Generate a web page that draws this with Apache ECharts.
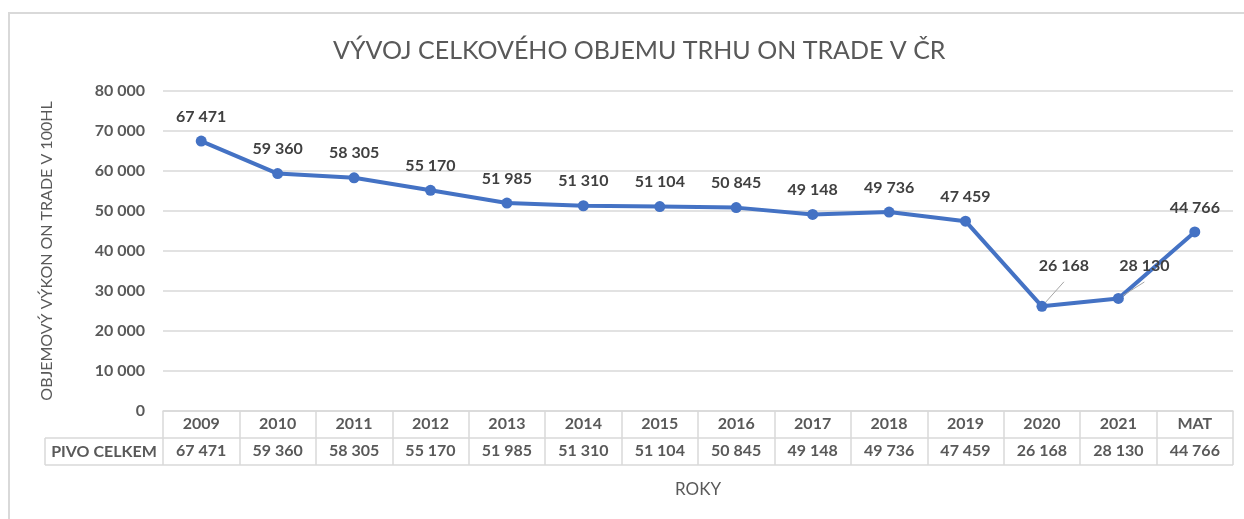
<!DOCTYPE html>
<html>
<head>
<meta charset="utf-8">
<script src="https://cdn.jsdelivr.net/npm/echarts@6/dist/echarts.min.js"></script>
<style>
  html, body { margin: 0; padding: 0; background: #fff; }
  #chart { width: 1244px; height: 519px; }
</style>
</head>
<body>
<div id="chart"></div>
<script>
var years = ['2009','2010','2011','2012','2013','2014','2015','2016','2017','2018','2019','2020','2021','MAT'];
var pivoCelkem = [67471, 59360, 58305, 55170, 51985, 51310, 51104, 50845, 49148, 49736, 47459, 26168, 28130, 44766];
var rowName = 'PIVO CELKEM';
var yTicks = { min: 0, max: 80000, interval: 10000 };

var FONT = 'Lato';
var GRAY = '#595959';
var LINE = '#d9d9d9';

function fmt(v) {
    return String(v).replace(/\B(?=(\d{3})+(?!\d))/g, ' ');
}

// grid edges in pixels
var gl = 163, gr = 1233, gt = 91, gb = 411;
var rowH = 27;

// labels pulled off the line, with a leader line (as in the source)
var labelShift = { '2020': [22, -16], '2021': [26, -8] };

var chart = echarts.init(document.getElementById('chart'));

var seriesData = pivoCelkem.map(function (v, i) {
    var d = { value: v };
    if (labelShift[years[i]]) {
        d.label = { position: 'top', offset: labelShift[years[i]] };
        d.labelLine = { show: true, lineStyle: { color: '#a6a6a6', width: 1 } };
    }
    return d;
});

chart.setOption({
    backgroundColor: '#fff',
    title: {
        text: 'VÝVOJ CELKOVÉHO OBJEMU TRHU ON TRADE V ČR',
        left: 328,
        top: 33,
        textStyle: { fontFamily: FONT, fontSize: 25, fontWeight: 'normal', color: GRAY }
    },
    grid: { left: gl, right: 1244 - gr, top: gt, bottom: 519 - gb },
    xAxis: [
        {
            type: 'category',
            data: years,
            boundaryGap: true,
            position: 'bottom',
            axisLine: { show: true, lineStyle: { color: LINE, width: 1.5 } },
            axisTick: { show: true, interval: 0, length: rowH * 2, lineStyle: { color: LINE, width: 1.5 } },
            axisLabel: { interval: 0, margin: 5, fontFamily: FONT, fontSize: 16, fontWeight: 'bold', color: GRAY },
            name: 'ROKY',
            nameLocation: 'middle',
            nameGap: 70,
            nameTextStyle: { fontFamily: FONT, fontSize: 17, color: GRAY }
        },
        {
            type: 'category',
            data: pivoCelkem.map(fmt),
            boundaryGap: true,
            position: 'bottom',
            offset: rowH,
            axisLine: { show: false },
            axisTick: { show: false },
            axisLabel: { interval: 0, margin: 5, fontFamily: FONT, fontSize: 16, fontWeight: 'bold', color: GRAY }
        }
    ],
    yAxis: {
        type: 'value',
        min: yTicks.min,
        max: yTicks.max,
        interval: yTicks.interval,
        axisLine: { show: false },
        axisTick: { show: false },
        splitLine: { lineStyle: { color: LINE, width: 1.5 } },
        axisLabel: {
            margin: 18,
            fontFamily: FONT, fontSize: 16, fontWeight: 'bold', color: GRAY,
            formatter: function (v) { return fmt(v); }
        },
        name: 'OBJEMOVÝ VÝKON ON TRADE V 100HL',
        nameLocation: 'middle',
        nameGap: 108,
        nameTextStyle: { fontFamily: FONT, fontSize: 16, color: GRAY }
    },
    series: [{
        type: 'line',
        xAxisIndex: 0,
        data: seriesData,
        symbol: 'circle',
        symbolSize: 11,
        lineStyle: { color: '#4472C4', width: 4 },
        itemStyle: { color: '#4472C4' },
        label: {
            show: true,
            position: 'top',
            distance: 11,
            fontFamily: FONT, fontSize: 16, fontWeight: 'bold', color: '#404040',
            formatter: function (p) { return fmt(p.value); }
        },
        animation: false
    }],
    graphic: [
        // outer chart frame
        { type: 'rect', silent: true, shape: { x: 9, y: 13, width: 1400, height: 700 },
          style: { fill: 'none', stroke: LINE, lineWidth: 2 } },
        // data table rows
        { type: 'line', silent: true, shape: { x1: 45, y1: gb + rowH, x2: gr, y2: gb + rowH },
          style: { stroke: LINE, lineWidth: 1.5 } },
        { type: 'line', silent: true, shape: { x1: 45, y1: gb + rowH * 2, x2: gr, y2: gb + rowH * 2 },
          style: { stroke: LINE, lineWidth: 1.5 } },
        { type: 'line', silent: true, shape: { x1: 45, y1: gb + rowH, x2: 45, y2: gb + rowH * 2 },
          style: { stroke: LINE, lineWidth: 1.5 } },
        { type: 'text', silent: true, x: (45 + gl) / 2, y: gb + rowH * 1.5,
          style: { text: rowName, align: 'center', verticalAlign: 'middle',
                   font: 'bold 16px ' + FONT, fill: GRAY } }
    ]
});
</script>
</body>
</html>
